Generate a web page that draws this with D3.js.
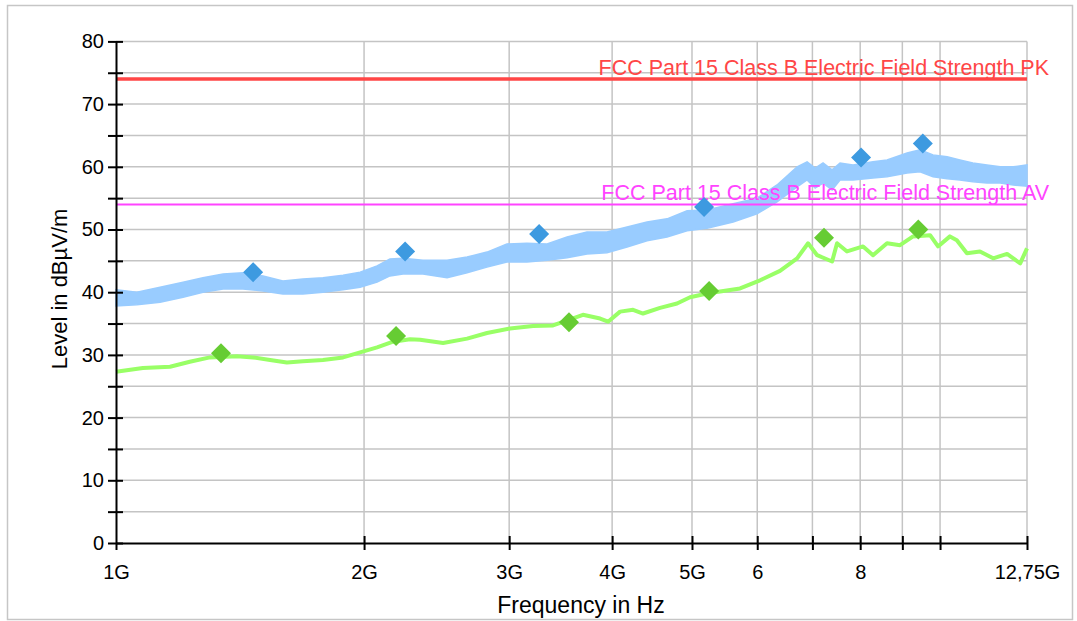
<!DOCTYPE html>
<html>
<head>
  <meta charset="UTF-8">
  <style>
    body { margin: 0; background: #fff; }
    svg { display: block; font-family: "Liberation Sans", Arial, sans-serif; }
  </style>
</head>
<body>
<svg id="chart" width="1077" height="621"></svg>
<script src="https://d3js.org/d3.v7.min.js"></script>
<script>
// frequencies in GHz, levels in dBuV/m
var avgFreq = [1.000, 1.078, 1.163, 1.229, 1.300, 1.402, 1.467, 1.538, 1.612, 1.686, 1.783, 1.886, 1.978,
  2.074, 2.169, 2.274, 2.339, 2.494, 2.667, 2.820, 3.007, 3.207, 3.391, 3.687, 3.868, 3.955, 4.090,
  4.241, 4.361, 4.573, 4.795, 4.973, 5.215, 5.408, 5.719, 6.047, 6.394, 6.707, 6.916, 7.093, 7.396,
  7.499, 7.711, 8.064, 8.292, 8.623, 8.942, 9.274, 9.725, 9.944, 10.28, 10.48, 10.78, 11.18, 11.60,
  12.06, 12.51, 12.75];
var avgLevel = [27.3, 27.9, 28.1, 28.9, 29.6, 29.8, 29.6, 29.2, 28.8, 29.0, 29.2, 29.6, 30.4,
  31.2, 32.1, 32.5, 32.4, 31.9, 32.6, 33.5, 34.2, 34.6, 34.7, 36.4, 35.8, 35.3, 36.9,
  37.2, 36.6, 37.5, 38.2, 39.2, 39.8, 40.1, 40.6, 41.9, 43.4, 45.4, 47.8, 45.9, 44.9,
  47.8, 46.5, 47.3, 45.9, 47.8, 47.5, 48.9, 49.1, 47.3, 48.9, 48.3, 46.2, 46.5, 45.4,
  46.1, 44.6, 47.0];

// peak trace: upper and lower edge of the noisy band
var peakFreq = [1.000, 1.060, 1.131, 1.206, 1.275, 1.349, 1.426, 1.508, 1.594, 1.686, 1.783, 1.886, 1.978,
  2.074, 2.150, 2.230, 2.358, 2.522, 2.667, 2.820, 2.981, 3.153, 3.335, 3.527, 3.729, 3.943, 4.171,
  4.410, 4.664, 4.932, 5.215, 5.609, 5.996, 6.341, 6.707, 6.897, 7.054, 7.211, 7.396, 7.562, 7.842,
  8.292, 8.623, 9.120, 9.456, 9.806, 10.20, 10.57, 10.96, 11.40, 11.83, 12.27, 12.75];
var peakMax = [40.4, 40.0, 40.8, 41.6, 42.3, 42.9, 43.1, 42.6, 41.8, 42.1, 42.3, 42.7, 43.2,
  44.2, 45.3, 45.4, 45.1, 45.1, 45.6, 46.4, 47.7, 47.8, 47.7, 48.8, 49.6, 49.6, 50.4,
  51.2, 51.7, 53.0, 53.1, 54.1, 55.0, 57.1, 60.0, 60.8, 59.8, 60.6, 59.5, 60.6, 60.3,
  60.8, 61.1, 62.2, 62.7, 61.9, 61.6, 61.1, 60.6, 60.3, 60.0, 60.0, 60.3];
var peakMin = [37.8, 38.0, 38.4, 39.2, 40.0, 40.5, 40.5, 40.2, 39.7, 39.7, 40.0, 40.4, 40.8,
  41.6, 42.6, 42.9, 42.9, 42.3, 43.1, 44.0, 44.8, 44.8, 45.1, 45.5, 46.1, 46.3, 47.2,
  48.2, 48.8, 49.8, 50.2, 51.2, 52.5, 54.4, 56.8, 57.9, 56.6, 57.4, 56.3, 57.9, 57.9,
  58.2, 58.4, 59.0, 59.2, 58.4, 58.1, 57.9, 57.6, 57.4, 57.4, 57.1, 56.9];

var peakMarkFreq = [1.467, 2.243, 3.262, 5.172, 8.02, 9.53];
var peakMarkLevel = [43.2, 46.5, 49.3, 53.6, 61.5, 63.7];
var avgMarkFreq = [1.341, 2.187, 3.546, 5.245, 7.23, 9.41];
var avgMarkLevel = [30.25, 33.0, 35.2, 40.2, 48.7, 50.0];

var limitNames = ["FCC Part 15 Class B Electric Field Strength PK", "FCC Part 15 Class B Electric Field Strength AV"];
var limitLevels = [74, 54];
var limitColors = ["#ff4646", "#ff44ff"];
var limitWidths = [3.5, 2];

var xTicks = [1, 2, 3, 4, 5, 6, 7, 8, 9, 10, 12.75];
var xTickLabels = ["1G", "2G", "3G", "4G", "5G", "6", "", "8", "", "", "12,75G"];

var svg = d3.select("#chart");
var plotLeft = 116, plotRight = 1027, plotTop = 41.4, plotBottom = 543;

svg.append("rect").attr("x", 7.5).attr("y", 5.5).attr("width", 1065).attr("height", 614)
  .attr("fill", "#fff").attr("stroke", "#c6c6c6").attr("stroke-width", 1.5);

var x = d3.scaleLog().domain([1, 12.75]).range([plotLeft, plotRight]);
var y = d3.scaleLinear().domain([0, 80]).range([plotBottom, plotTop]);

// grid
svg.append("g").selectAll("line").data(d3.range(5, 81, 5)).enter().append("line")
  .attr("x1", plotLeft).attr("x2", plotRight).attr("y1", d => y(d)).attr("y2", d => y(d))
  .attr("stroke", "#c4c4c4").attr("stroke-width", 1.5);
svg.append("g").selectAll("line").data(xTicks.slice(1)).enter().append("line")
  .attr("x1", d => x(d)).attr("x2", d => x(d)).attr("y1", plotTop).attr("y2", plotBottom)
  .attr("stroke", "#c4c4c4").attr("stroke-width", 1.5);

// traces
var pk = peakFreq.map((f, i) => ({f: f, hi: peakMax[i], lo: peakMin[i]}));
var av = avgFreq.map((f, i) => [f, avgLevel[i]]);
var band = d3.area().x(d => x(d.f)).y0(d => y(d.lo)).y1(d => y(d.hi));
var line = d3.line().x(d => x(d[0])).y(d => y(d[1]));

svg.append("path").datum(pk).attr("d", band)
  .attr("fill", "#99ccff").attr("stroke", "#99ccff").attr("stroke-width", 1.5);
svg.append("path").datum(av).attr("d", line).attr("fill", "none")
  .attr("stroke", "#99ff66").attr("stroke-width", 4).attr("stroke-linejoin", "round");

// limit lines
limitLevels.forEach(function(v, i) {
  svg.append("line").attr("x1", plotLeft).attr("x2", plotRight).attr("y1", y(v)).attr("y2", y(v))
    .attr("stroke", limitColors[i]).attr("stroke-width", limitWidths[i]);
  svg.append("text").attr("x", 1049).attr("y", y(v) - 4).attr("text-anchor", "end")
    .attr("font-size", 21.5).attr("fill", limitColors[i]).text(limitNames[i]);
});

// markers
var diamond = d3.symbol().type(d3.symbolSquare).size(200);
svg.append("g").selectAll("path").data(peakMarkFreq).enter().append("path")
  .attr("d", diamond)
  .attr("transform", (d, i) => "translate(" + x(d) + "," + y(peakMarkLevel[i]) + ") rotate(45)")
  .attr("fill", "#3d9ae0");
svg.append("g").selectAll("path").data(avgMarkFreq).enter().append("path")
  .attr("d", diamond)
  .attr("transform", (d, i) => "translate(" + x(d) + "," + y(avgMarkLevel[i]) + ") rotate(45)")
  .attr("fill", "#66cc33");

// axes
var yAxis = d3.axisLeft(y).tickValues(d3.range(0, 81, 5)).tickSize(8).tickSizeOuter(0)
  .tickFormat(d => d % 10 === 0 ? d : "");
svg.append("g").attr("transform", "translate(" + plotLeft + ",0)").call(yAxis)
  .attr("font-family", null)
  .call(g => g.select(".domain").attr("stroke-width", 2))
  .call(g => g.selectAll(".tick line").attr("x1", 7).attr("stroke-width", 2))
  .call(g => g.selectAll(".tick text").attr("x", -12).attr("font-size", 20).attr("fill", "#000"));

var xAxis = d3.axisBottom(x).tickValues(xTicks).tickSize(7).tickSizeOuter(0)
  .tickFormat((d, i) => xTickLabels[i]);
svg.append("g").attr("transform", "translate(0," + plotBottom + ")").call(xAxis)
  .attr("font-family", null)
  .call(g => g.select(".domain").attr("stroke-width", 2))
  .call(g => g.selectAll(".tick line").attr("y1", (d, i) => i === 0 ? 0 : -7).attr("stroke-width", 2))
  .call(g => g.selectAll(".tick text").attr("y", 22).attr("font-size", 20).attr("fill", "#000"));

// titles
svg.append("text").attr("x", 581).attr("y", 613).attr("text-anchor", "middle")
  .attr("font-size", 23).text("Frequency in Hz");
svg.append("text").attr("transform", "translate(67,289) rotate(-90)").attr("text-anchor", "middle")
  .attr("font-size", 22).text("Level in dBµV/m");
</script>
</body>
</html>
